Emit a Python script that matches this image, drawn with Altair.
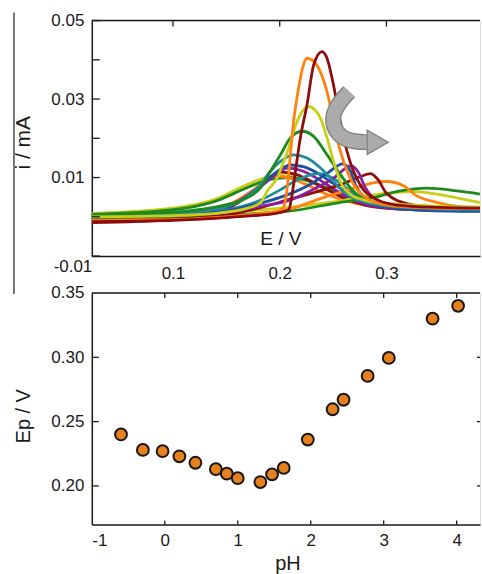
import altair as alt
import pandas as pd

# ---------------- top panel: voltammograms (E / V, i / mA) ----------------
# broad low-pH curves
E_yel2 = [0.024, 0.10, 0.14, 0.17, 0.19, 0.205, 0.22, 0.24, 0.26, 0.28, 0.30, 0.34, 0.3876]
I_yel2 = [0.0009, 0.0022, 0.0045, 0.0083, 0.0102, 0.0105, 0.0097, 0.0078, 0.0058, 0.0040, 0.0030, 0.0022, 0.0018]
E_grn2 = [0.024, 0.10, 0.14, 0.17, 0.19, 0.21, 0.225, 0.24, 0.26, 0.28, 0.30, 0.34, 0.3876]
I_grn2 = [0.0006, 0.0018, 0.0040, 0.0075, 0.0095, 0.0100, 0.0093, 0.0078, 0.0058, 0.0040, 0.0030, 0.0020, 0.0017]
E_org2 = [0.024, 0.10, 0.15, 0.175, 0.186, 0.196, 0.21, 0.225, 0.24, 0.26, 0.28, 0.30, 0.34, 0.3876]
I_org2 = [-0.0008, 0.0, 0.0028, 0.0068, 0.0090, 0.0104, 0.0098, 0.0082, 0.0062, 0.0042, 0.0030, 0.0022, 0.0018, 0.0017]
E_mar2 = [0.024, 0.10, 0.15, 0.175, 0.19, 0.201, 0.215, 0.23, 0.245, 0.26, 0.28, 0.30, 0.34, 0.3876]
I_mar2 = [-0.0015, -0.0008, 0.0020, 0.0062, 0.0097, 0.0114, 0.0108, 0.0090, 0.0068, 0.0048, 0.0030, 0.0022, 0.0017, 0.0016]
E_pur1 = [0.024, 0.10, 0.15, 0.18, 0.195, 0.207, 0.22, 0.235, 0.25, 0.265, 0.28, 0.30, 0.34, 0.3876]
I_pur1 = [0.0003, 0.0008, 0.0027, 0.0072, 0.0105, 0.0124, 0.0118, 0.0098, 0.0072, 0.0048, 0.0032, 0.0023, 0.0017, 0.0016]
E_blu1 = [0.024, 0.10, 0.15, 0.18, 0.195, 0.21, 0.222, 0.235, 0.25, 0.265, 0.28, 0.30, 0.34, 0.3876]
I_blu1 = [0.0, 0.0006, 0.0025, 0.0075, 0.0110, 0.0132, 0.0128, 0.0112, 0.0085, 0.0058, 0.0038, 0.0025, 0.0018, 0.0015]
# curves with the peak shifted to higher potential
E_tea2 = [0.024, 0.10, 0.15, 0.18, 0.20, 0.215, 0.236, 0.25, 0.265, 0.28, 0.30, 0.34, 0.3876]
I_tea2 = [0.0002, 0.0006, 0.0018, 0.0040, 0.0068, 0.0092, 0.0110, 0.0098, 0.0068, 0.0042, 0.0028, 0.0020, 0.0016]
E_blu2 = [0.024, 0.10, 0.15, 0.18, 0.21, 0.23, 0.245, 0.259, 0.266, 0.272, 0.288, 0.31, 0.34, 0.3876]
I_blu2 = [0.0, 0.0004, 0.0015, 0.0033, 0.0059, 0.0085, 0.0112, 0.0135, 0.0118, 0.0075, 0.0037, 0.0022, 0.0016, 0.0014]
E_pur2 = [0.024, 0.10, 0.15, 0.18, 0.21, 0.23, 0.25, 0.267, 0.274, 0.28, 0.295, 0.315, 0.34, 0.3876]
I_pur2 = [0.0003, 0.0006, 0.0013, 0.0026, 0.0043, 0.0068, 0.0098, 0.0130, 0.0112, 0.0075, 0.0038, 0.0024, 0.0018, 0.0016]
E_mar3 = [0.024, 0.10, 0.15, 0.18, 0.21, 0.24, 0.26, 0.275, 0.285, 0.292, 0.30, 0.32, 0.35, 0.3876]
I_mar3 = [-0.0012, -0.0006, 0.0005, 0.0022, 0.0045, 0.0068, 0.0085, 0.0102, 0.0110, 0.0095, 0.0060, 0.0033, 0.0023, 0.0020]
E_org3 = [0.024, 0.10, 0.15, 0.18, 0.21, 0.241, 0.272, 0.29, 0.30, 0.316, 0.328, 0.347, 0.37, 0.3876]
I_org3 = [-0.0009, -0.0006, 0.0, 0.0008, 0.0020, 0.0049, 0.0075, 0.0088, 0.0090, 0.0079, 0.0054, 0.0037, 0.0025, 0.0020]
E_yel3 = [0.024, 0.10, 0.15, 0.20, 0.25, 0.28, 0.30, 0.325, 0.347, 0.37, 0.3876]
I_yel3 = [0.0005, 0.0008, 0.0012, 0.0022, 0.0038, 0.0052, 0.0060, 0.0064, 0.0058, 0.0046, 0.0036]
E_grn3 = [0.024, 0.10, 0.15, 0.18, 0.21, 0.257, 0.288, 0.313, 0.338, 0.366, 0.3876]
I_grn3 = [-0.0005, -0.0003, 0.0003, 0.0009, 0.0015, 0.0037, 0.0049, 0.0066, 0.0073, 0.0066, 0.0058]
# large peaks
E_tea1 = [0.024, 0.10, 0.13, 0.16, 0.18, 0.1913, 0.2007, 0.213, 0.2256, 0.238, 0.2504, 0.263, 0.28, 0.30, 0.34, 0.3876]
I_tea1 = [0.0002, 0.0008, 0.0016, 0.0036, 0.0075, 0.0116, 0.0141, 0.0158, 0.0150, 0.0125, 0.0090, 0.0057, 0.0037, 0.0028, 0.0021, 0.0018]
E_grn1 = [0.024, 0.10, 0.138, 0.16, 0.172, 0.182, 0.1913, 0.2007, 0.21, 0.2209, 0.2318, 0.2443, 0.2567, 0.2691, 0.285, 0.31, 0.35, 0.3876]
I_grn1 = [0.0006, 0.0012, 0.0024, 0.0038, 0.0052, 0.0074, 0.0116, 0.0158, 0.0201, 0.0218, 0.0205, 0.0158, 0.0108, 0.0065, 0.0040, 0.0030, 0.0026, 0.0024]
E_yel1 = [0.024, 0.10, 0.15, 0.17, 0.182, 0.1882, 0.1976, 0.2037, 0.2084, 0.213, 0.2177, 0.2271, 0.238, 0.2443, 0.2504, 0.2567, 0.266, 0.28, 0.30, 0.34, 0.3876]
I_yel1 = [0.0, 0.0003, 0.0012, 0.0022, 0.0036, 0.0065, 0.0099, 0.0141, 0.0175, 0.0218, 0.0252, 0.0281, 0.0252, 0.0201, 0.0141, 0.0090, 0.0057, 0.0042, 0.0034, 0.0028, 0.0025]
E_org1 = [0.024, 0.10, 0.15, 0.18, 0.195, 0.2035, 0.207, 0.210, 0.213, 0.2177, 0.222, 0.2256, 0.231, 0.238, 0.2458, 0.252, 0.2598, 0.2676, 0.28, 0.30, 0.34, 0.3876]
I_org1 = [-0.0009, -0.0007, 0.0, 0.0006, 0.0011, 0.0023, 0.0074, 0.0158, 0.0243, 0.0328, 0.0385, 0.0404, 0.0398, 0.0370, 0.0302, 0.0218, 0.0141, 0.0090, 0.0050, 0.0030, 0.0023, 0.0021]
E_mar1 = [0.024, 0.10, 0.15, 0.18, 0.195, 0.2084, 0.2116, 0.2147, 0.2193, 0.2256, 0.2318, 0.2396, 0.2443, 0.2504, 0.2567, 0.263, 0.2691, 0.277, 0.29, 0.31, 0.35, 0.3876]
I_mar1 = [-0.0012, -0.0009, -0.0002, 0.0004, 0.0008, 0.0018, 0.0057, 0.0116, 0.0201, 0.0286, 0.0387, 0.0421, 0.0404, 0.0335, 0.0243, 0.0167, 0.0116, 0.0074, 0.0045, 0.0030, 0.0024, 0.0022]

MAROON, ORANGE, YELLOW, GREEN, TEAL, BLUE, PURPLE = (
    "#8E0C0C", "#FF8210", "#C9CF16", "#1E8A1E", "#1F8C9C", "#1F4FA0", "#8C1E9E")

curve_list = [  # drawing order (first is at the bottom)
    ("c01", YELLOW, E_yel2, I_yel2), ("c02", GREEN, E_grn2, I_grn2),
    ("c03", ORANGE, E_org2, I_org2), ("c04", MAROON, E_mar2, I_mar2),
    ("c05", PURPLE, E_pur1, I_pur1), ("c06", BLUE, E_blu1, I_blu1),
    ("c07", TEAL, E_tea2, I_tea2), ("c08", YELLOW, E_yel3, I_yel3),
    ("c09", GREEN, E_grn3, I_grn3), ("c10", ORANGE, E_org3, I_org3),
    ("c11", MAROON, E_mar3, I_mar3), ("c12", PURPLE, E_pur2, I_pur2),
    ("c13", BLUE, E_blu2, I_blu2), ("c14", TEAL, E_tea1, I_tea1),
    ("c15", GREEN, E_grn1, I_grn1), ("c16", YELLOW, E_yel1, I_yel1),
    ("c17", ORANGE, E_org1, I_org1), ("c18", MAROON, E_mar1, I_mar1),
]

# curved grey arrow (annotation, in data coordinates)
arrow_E = [0.2651, 0.2539, 0.2483, 0.2530, 0.2642, 0.2829]
arrow_I = [0.0319, 0.0286, 0.0248, 0.0213, 0.0192, 0.0190]
arrow_head_E = [0.2918]
arrow_head_I = [0.0190]

top_y_ticks = [-0.01, 0.0, 0.01, 0.02, 0.03, 0.04, 0.05]
top_y_labels = [-0.01, 0.01, 0.03, 0.05]
top_x_labels = [0.1, 0.2, 0.3]

# ---------------- bottom panel: Ep vs pH ----------------
pH = [-0.60, -0.30, -0.03, 0.20, 0.42, 0.70, 0.85, 1.00, 1.31, 1.47, 1.63, 1.96,
      2.30, 2.45, 2.78, 3.07, 3.67, 4.02]
Ep = [0.240, 0.228, 0.227, 0.223, 0.218, 0.213, 0.2095, 0.206, 0.203, 0.209, 0.214, 0.236,
      0.2596, 0.267, 0.2855, 0.2995, 0.330, 0.340]
bot_y_labels = [0.20, 0.25, 0.30, 0.35]
bot_y_ticks = [0.20, 0.25, 0.30]
bot_x_labels = [-1, 0, 1, 2, 3, 4]
bot_x_ticks = [0, 1, 2, 3, 4]

# ---------------- build ----------------
W = 389
H_TOP = 236
H_BOT = 232
INK = "#1a1a1a"
FONT = "Liberation Sans"
MINUS = "\u2212"

rows = []
for cid, col, ee, ii in curve_list:
    for k, (e, i) in enumerate(zip(ee, ii)):
        rows.append({"id": cid, "E": e, "i": i, "k": k})
df_curves = pd.DataFrame(rows)
ids = [c[0] for c in curve_list]
cols = [c[1] for c in curve_list]

xs_top = alt.Scale(domain=[0.024, 0.3876], nice=False, zero=False)
ys_top = alt.Scale(domain=[-0.01, 0.05], nice=False, zero=False)

top_x_axis = alt.Axis(values=top_x_labels, format=".1f", ticks=False, grid=False,
                      domainColor=INK, domainWidth=1.5, labelFontSize=17, labelColor=INK,
                      labelPadding=9, labelFont=FONT,
                      title="E / V", titleFont=FONT, titleFontSize=19, titleFontWeight="normal",
                      titleColor=INK, titleX=189, titleY=-18, titleBaseline="middle")
top_y_axis = alt.Axis(values=top_y_labels, ticks=False, grid=False,
                      labelExpr="replace(format(datum.value, '.2f'), '" + MINUS + "', '-')",
                      domainColor=INK, domainWidth=1.5, labelFontSize=17, labelColor=INK,
                      labelFont=FONT,
                      labelPadding={"condition": {"test": "datum.value < 0", "value": 0}, "value": 8},
                      labelOffset={"condition": {"test": "datum.value < 0", "value": 10}, "value": 0},
                      title="i / mA", titleFont=FONT, titleFontSize=21, titleFontWeight="normal",
                      titleColor=INK, titleX=-68, titleY=122, titleAngle=-90,
                      titleBaseline="middle", titleAlign="center")

lines = alt.Chart(df_curves).mark_line(strokeWidth=2.8, interpolate="monotone", clip=True).encode(
    x=alt.X("E:Q", scale=xs_top, axis=top_x_axis),
    y=alt.Y("i:Q", scale=ys_top, axis=top_y_axis),
    color=alt.Color("id:N", scale=alt.Scale(domain=ids, range=cols), legend=None),
    order=alt.Order("k:Q"),
)

df_arrow = pd.DataFrame({"E": arrow_E, "i": arrow_I, "k": list(range(len(arrow_E)))})
arrow_edge = alt.Chart(df_arrow).mark_line(strokeWidth=16, color="#7d7d7d", interpolate="basis",
                                          strokeCap="butt").encode(
    x=alt.X("E:Q", scale=xs_top), y=alt.Y("i:Q", scale=ys_top), order="k:Q")
arrow_body = alt.Chart(df_arrow).mark_line(strokeWidth=13.5, color="#ababab", interpolate="basis",
                                          strokeCap="butt").encode(
    x=alt.X("E:Q", scale=xs_top), y=alt.Y("i:Q", scale=ys_top), order="k:Q")
df_head = pd.DataFrame({"E": arrow_head_E, "i": arrow_head_I})
arrow_head = alt.Chart(df_head).mark_point(shape="triangle-right", filled=True, size=600,
                                           fill="#ababab", stroke="#7d7d7d", strokeWidth=1.2,
                                           opacity=1).encode(
    x=alt.X("E:Q", scale=xs_top), y=alt.Y("i:Q", scale=ys_top))

one = pd.DataFrame({"a": [0]})
frame_top = alt.Chart(one).mark_rule(color=INK, strokeWidth=1.5).encode(
    x=alt.value(0), x2=alt.value(W), y=alt.value(0))
outer_line = alt.Chart(one).mark_rule(color=INK, strokeWidth=1.2).encode(
    x=alt.value(-78), y=alt.value(-8), y2=alt.value(274))
yt_top = alt.Chart(pd.DataFrame({"v": top_y_ticks})).mark_rule(color=INK, strokeWidth=1.3).encode(
    y=alt.Y("v:Q", scale=ys_top), x=alt.value(0), x2=alt.value(8))
xt_top = alt.Chart(pd.DataFrame({"v": top_x_labels})).mark_rule(color=INK, strokeWidth=1.3).encode(
    x=alt.X("v:Q", scale=xs_top), y=alt.value(0), y2=alt.value(6))

top = alt.layer(lines, arrow_edge, arrow_body, arrow_head, frame_top, outer_line, yt_top, xt_top
                ).properties(width=W, height=H_TOP)

xs_bot = alt.Scale(domain=[-1, 4.32], nice=False, zero=False)
ys_bot = alt.Scale(domain=[0.17, 0.35], nice=False, zero=False)
bot_x_axis = alt.Axis(values=bot_x_labels, ticks=False, grid=False,
                      labelExpr="replace(format(datum.value, 'd'), '" + MINUS + "', '-')",
                      domainColor=INK, domainWidth=1.5, labelFontSize=17, labelColor=INK,
                      labelPadding=8, labelFont=FONT,
                      title="pH", titleFont=FONT, titleFontSize=20, titleFontWeight="normal",
                      titleColor=INK, titleX=196, titleY=39, titleBaseline="middle")
bot_y_axis = alt.Axis(values=bot_y_labels, format=".2f", ticks=False, grid=False,
                      domainColor=INK, domainWidth=1.5, labelFontSize=17, labelColor=INK,
                      labelPadding=8, labelFont=FONT,
                      title="Ep / V", titleFont=FONT, titleFontSize=20, titleFontWeight="normal",
                      titleColor=INK, titleX=-68, titleY=123, titleAngle=-90,
                      titleBaseline="middle", titleAlign="center")
pts = alt.Chart(pd.DataFrame({"pH": pH, "Ep": Ep})).mark_circle(
    size=140, color="#E8801E", stroke="#161616", strokeWidth=2, opacity=1).encode(
    x=alt.X("pH:Q", scale=xs_bot, axis=bot_x_axis),
    y=alt.Y("Ep:Q", scale=ys_bot, axis=bot_y_axis))
frame_bot = alt.Chart(one).mark_rule(color=INK, strokeWidth=1.5).encode(
    x=alt.value(0), x2=alt.value(W), y=alt.value(0))
yt_bot = alt.Chart(pd.DataFrame({"v": bot_y_ticks})).mark_rule(color=INK, strokeWidth=1.3).encode(
    y=alt.Y("v:Q", scale=ys_bot), x=alt.value(0), x2=alt.value(7))
yt_bot_r = alt.Chart(pd.DataFrame({"v": bot_y_ticks})).mark_rule(color=INK, strokeWidth=1.3).encode(
    y=alt.Y("v:Q", scale=ys_bot), x=alt.value(W - 3), x2=alt.value(W))
xt_bot_top = alt.Chart(pd.DataFrame({"v": bot_x_ticks})).mark_rule(color=INK, strokeWidth=1.3).encode(
    x=alt.X("v:Q", scale=xs_bot), y=alt.value(0), y2=alt.value(5))
xt_bot_bot = alt.Chart(pd.DataFrame({"v": bot_x_ticks})).mark_rule(color=INK, strokeWidth=1.3).encode(
    x=alt.X("v:Q", scale=xs_bot), y=alt.value(H_BOT - 4), y2=alt.value(H_BOT))

bottom = alt.layer(pts, frame_bot, yt_bot, yt_bot_r, xt_bot_top, xt_bot_bot
                   ).properties(width=W, height=H_BOT)

chart = alt.vconcat(top, bottom, spacing=37, bounds="flush").properties(
    padding={"left": 12, "top": 10, "right": 0, "bottom": 0}
).configure_view(stroke=None).configure(background="white")

chart.save("out.html", embed_options={"renderer": "svg", "actions": False})
